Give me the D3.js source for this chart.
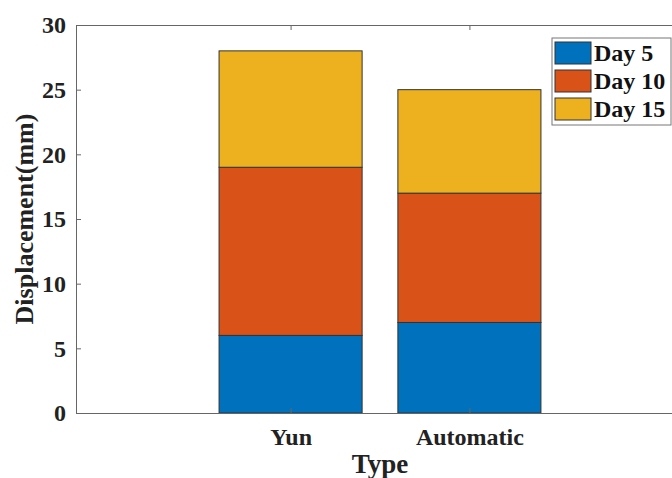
<!DOCTYPE html>
<html>
<head>
<meta charset="utf-8">
<script src="https://cdn.jsdelivr.net/npm/d3@7"></script>
<style>
  body { margin: 0; background: #fff; }
  text { font-family: "Liberation Serif", "Times New Roman", serif; font-weight: bold; }
</style>
</head>
<body>
<div id="chart"></div>
<script>
const types = ["Yun", "Automatic"];
const seriesNames = ["Day 5", "Day 10", "Day 15"];
const day5 = [6, 7];
const day10 = [13, 10];
const day15 = [9, 8];
const yTicks = [0, 5, 10, 15, 20, 25, 30];

const width = 672, height = 478;
const margin = { top: 25, right: -12, bottom: 65, left: 76 };

const color = d3.scaleOrdinal()
    .domain(seriesNames)
    .range(["#0072BD", "#D95319", "#EDB120"]);

// table for the stack
const rows = types.map((t, i) => ({ type: t, "Day 5": day5[i], "Day 10": day10[i], "Day 15": day15[i] }));
const stacked = d3.stack().keys(seriesNames)(rows);

// categories sit at 1 and 2, MATLAB style xlim
const x = d3.scaleLinear()
    .domain([-0.2, 3.2])
    .range([margin.left, width - margin.right]);
const barW = x(0.8) - x(0);

const y = d3.scaleLinear()
    .domain([0, 30])
    .range([height - margin.bottom, margin.top]);

const svg = d3.select("#chart")
    .append("svg")
    .attr("width", width)
    .attr("height", height);

// bars
svg.selectAll(".layer")
    .data(stacked)
    .enter()
    .append("g")
    .attr("class", "layer")
    .attr("fill", d => color(d.key))
    .selectAll("rect")
    .data(d => d)
    .enter()
    .append("rect")
    .attr("x", (d, i) => x(i + 1) - barW / 2)
    .attr("y", d => y(d[1]))
    .attr("width", barW)
    .attr("height", d => y(d[0]) - y(d[1]))
    .attr("stroke", "#333")
    .attr("stroke-width", 1);

// axes
const axisColor = "#666";
const yAxis = svg.append("g")
    .attr("transform", `translate(${margin.left},0)`)
    .call(d3.axisLeft(y).tickValues(yTicks).tickSizeInner(-5).tickSizeOuter(0).tickPadding(10));
yAxis.select(".domain").attr("stroke", axisColor);
yAxis.selectAll(".tick line").attr("stroke", axisColor);
yAxis.selectAll("text").attr("font-size", 24).attr("fill", "#222");

const xAxis = svg.append("g")
    .attr("transform", `translate(0,${y(0)})`)
    .call(d3.axisBottom(x).tickValues([1, 2]).tickFormat((d, i) => types[i])
        .tickSizeInner(-5).tickSizeOuter(0).tickPadding(15));
xAxis.select(".domain").attr("stroke", axisColor);
xAxis.selectAll(".tick line").attr("stroke", axisColor);
xAxis.selectAll("text").attr("font-size", 24).attr("fill", "#222");

const xTop = svg.append("g")
    .attr("transform", `translate(0,${y(30)})`)
    .call(d3.axisTop(x).tickValues([1, 2]).tickFormat("").tickSizeInner(-5).tickSizeOuter(0));
xTop.select(".domain").attr("stroke", axisColor);
xTop.selectAll(".tick line").attr("stroke", axisColor);

// axis titles
svg.append("text")
    .attr("x", (x(1) + x(2)) / 2)
    .attr("y", 473)
    .attr("text-anchor", "middle")
    .attr("font-size", 27)
    .attr("fill", "#222")
    .text("Type");

svg.append("text")
    .attr("transform", `translate(33,${(y(0) + y(30)) / 2}) rotate(-90)`)
    .attr("text-anchor", "middle")
    .attr("font-size", 26)
    .attr("fill", "#222")
    .text("Displacement(mm)");

// legend
const legend = svg.append("g").attr("transform", "translate(552,38)");
legend.append("rect")
    .attr("width", 119)
    .attr("height", 87)
    .attr("fill", "#fff")
    .attr("stroke", "#777");
const item = legend.selectAll(".item")
    .data(seriesNames)
    .enter()
    .append("g")
    .attr("transform", (d, i) => `translate(3,${4 + i * 28})`);
item.append("rect")
    .attr("width", 36)
    .attr("height", 22)
    .attr("fill", d => color(d))
    .attr("stroke", "#333");
item.append("text")
    .attr("x", 39)
    .attr("y", 19)
    .attr("font-size", 24)
    .attr("fill", "#111")
    .text(d => d);
</script>
</body>
</html>
